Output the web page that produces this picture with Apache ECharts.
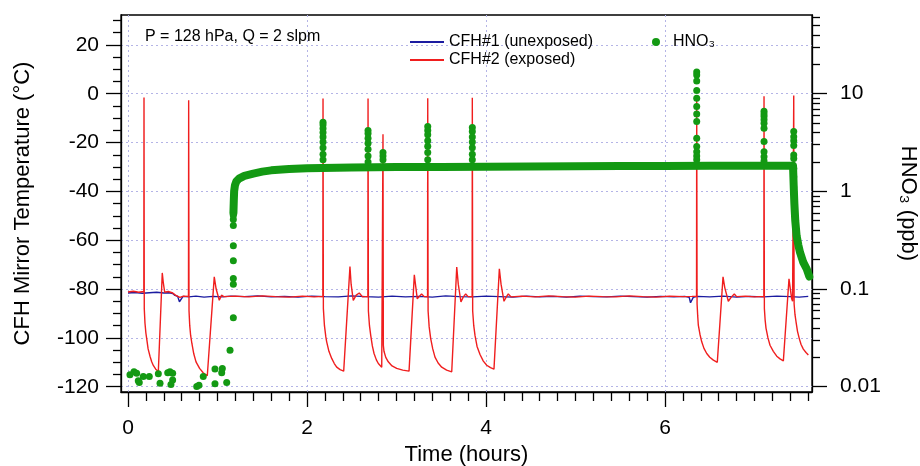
<!DOCTYPE html>
<html><head><meta charset="utf-8">
<script src="https://cdn.jsdelivr.net/npm/echarts@6/dist/echarts.min.js"></script>
<style>html,body{margin:0;padding:0;background:#fff}#c{width:920px;height:466px}</style>
</head><body><div id="c"></div>
<script>
// ---- tick labels / tick positions ----
const xMajorTicks = [0, 2, 4, 6];
const xMinorTicks = [0.2,0.4,0.6,0.8,1.0,1.2,1.4,1.6,1.8,2.2,2.4,2.6,2.8,3.0,3.2,3.4,3.6,3.8,4.2,4.4,4.6,4.8,5.0,5.2,5.4,5.6,5.8,6.2,6.4,6.6,6.8,7.0,7.2,7.4,7.6];
const tempMajorTicks = [-120,-100,-80,-60,-40,-20,0,20];
const tempMinorTicks = [-115,-110,-105,-95,-90,-85,-75,-70,-65,-55,-50,-45,-35,-30,-25,-15,-10,-5,5,10,15,25,30];
const ppbMajorTicks = [0.01, 0.1, 1, 10];
const ppbMinorTicks = [0.02,0.03,0.04,0.05,0.06,0.07,0.08,0.09,0.2,0.3,0.4,0.5,0.6,0.7,0.8,0.9,2,3,4,5,6,7,8,9,20,30,40,50,60];

// ---- CFH#1 (unexposed) mirror temperature [hours, degC] ----
const cfh1 = [
[0.00,-81.6],[0.08,-81.4],[0.16,-81.7],[0.24,-81.5],[0.32,-81.3],[0.40,-81.6],[0.46,-81.5],[0.50,-81.8],
[0.525,-82.6],[0.555,-83.0],[0.575,-85.2],[0.59,-84.4],[0.615,-83.0],[0.68,-83.2],[0.76,-82.9],[0.85,-83.3],
[0.95,-83.0],[1.05,-83.2],[1.15,-82.9],[1.3,-83.1],[1.45,-82.8],[1.6,-83.2],[1.75,-83.0],[1.9,-83.3],
[2.05,-82.9],[2.2,-83.1],[2.35,-83.2],[2.5,-82.8],[2.65,-83.1],[2.8,-83.3],[2.95,-82.9],[3.1,-83.2],
[3.25,-83.0],[3.4,-83.3],[3.55,-82.8],[3.7,-83.1],[3.85,-83.2],[4.0,-82.9],[4.15,-83.1],[4.3,-83.3],
[4.45,-82.9],[4.6,-83.2],[4.75,-83.0],[4.9,-83.3],[5.05,-82.9],[5.2,-83.1],[5.35,-83.2],[5.5,-82.9],
[5.65,-83.1],[5.8,-83.3],[5.95,-83.0],[6.1,-83.2],[6.22,-83.0],[6.27,-83.4],[6.285,-85.6],[6.30,-85.3],
[6.315,-83.4],[6.36,-83.0],[6.5,-83.2],[6.65,-82.9],[6.8,-83.3],[6.95,-83.0],[7.1,-83.2],[7.25,-82.9],
[7.4,-83.1],[7.5,-83.3],[7.6,-83.0]
];

// ---- CFH#2 (exposed) mirror temperature [hours, degC] ----
const cfh2 = [
[0.00,-81.2],[0.06,-80.9],[0.12,-81.3],[0.177,-81.0],
[0.179,-1.5],[0.182,-88],[0.19,-94],[0.2,-98],[0.209,-100.3],[0.225,-104.5],[0.246,-107.5],[0.265,-109.8],
[0.283,-111.3],[0.31,-112.8],[0.339,-113.8],[0.383,-73.4],[0.395,-77.5],[0.41,-81.3],[0.45,-81.0],[0.5,-81.6],
[0.53,-82.5],[0.58,-83.4],[0.62,-82.9],[0.676,-83.0],
[0.678,-2.7],[0.682,-89],[0.69,-95],[0.7,-99],[0.715,-102.5],[0.735,-106.5],[0.76,-109.8],[0.8,-112.5],
[0.84,-114.3],[0.886,-115.5],[0.964,-75],[0.985,-80],[1.02,-84.6],[1.045,-82.5],[1.07,-83.1],[1.2,-82.9],
[1.35,-83.2],[1.5,-82.8],[1.65,-83.1],[1.8,-83.3],[1.95,-82.9],[2.08,-83.2],[2.177,-83.0],
[2.179,-2],[2.183,-88],[2.195,-95],[2.21,-99.5],[2.22,-101.6],[2.245,-105.5],[2.276,-108.4],[2.305,-110.5],
[2.332,-112],[2.37,-113],[2.41,-113.6],[2.48,-70.8],[2.493,-78],[2.517,-84.6],[2.55,-82.5],[2.584,-81.6],
[2.62,-83.2],[2.68,-83.0],
[2.682,-2],[2.686,-89],[2.698,-95],[2.712,-99],[2.73,-103.3],[2.749,-106.4],[2.775,-109],[2.797,-110.5],
[2.835,-112],[2.847,-112.3],
[2.849,-16.6],[2.853,-103],[2.86,-105.5],[2.88,-108],[2.908,-109.8],[2.95,-111.5],[3.002,-112.5],[3.07,-113.2],
[3.14,-113.6],[3.199,-74.2],[3.215,-79],[3.232,-84],[3.255,-83],[3.28,-82],[3.31,-83.1],[3.347,-83.0],
[3.349,-1.9],[3.353,-89],[3.365,-95.5],[3.382,-100.3],[3.405,-104.5],[3.43,-107.9],[3.465,-110.3],[3.505,-112],
[3.56,-113.2],[3.617,-113.9],[3.673,-71],[3.69,-78],[3.72,-85.3],[3.745,-83.3],[3.773,-82],[3.8,-83.1],[3.845,-83.0],
[3.847,-1.6],[3.851,-89],[3.863,-95],[3.877,-99],[3.9,-103.5],[3.933,-106.8],[3.97,-109.5],[4.008,-111.2],
[4.05,-112.2],[4.089,-112.8],[4.149,-71.7],[4.168,-78],[4.201,-85],[4.225,-83.3],[4.249,-82],[4.28,-83.2],
[4.4,-82.9],[4.55,-83.2],[4.7,-82.8],[4.85,-83.1],[5.0,-83.3],[5.15,-82.9],[5.3,-83.1],[5.45,-83.2],
[5.6,-82.8],[5.75,-83.1],[5.9,-83.3],[6.05,-82.9],[6.2,-83.1],[6.3,-83.0],[6.352,-82.9],
[6.354,-1],[6.358,-86],[6.365,-91],[6.372,-94.8],[6.39,-98.5],[6.41,-101.6],[6.435,-104.3],[6.466,-106.4],
[6.5,-107.9],[6.54,-109.1],[6.584,-110],[6.648,-75],[6.668,-79.5],[6.707,-85],[6.74,-83.3],[6.774,-82],
[6.8,-83.1],[6.9,-82.9],[7.0,-83.2],[7.104,-83.0],
[7.106,-1],[7.11,-88],[7.118,-92.5],[7.128,-96],[7.15,-100],[7.173,-103],[7.21,-105.5],[7.248,-107.5],
[7.285,-108.6],[7.322,-109.4],[7.385,-75.8],[7.4,-80],[7.415,-84],[7.425,-85],[7.436,-84.5],
[7.438,-0.7],[7.442,-86],[7.452,-90.5],[7.464,-93.5],[7.48,-97.3],[7.5,-100.3],[7.52,-102.7],[7.545,-104.6],
[7.575,-106],[7.601,-107]
];

// ---- HNO3 (ppb): dense measurement band [hours, ppb] ----
const hno3Band = [
[1.178,0.6],[1.182,0.8],[1.186,1.0],[1.195,1.15],[1.21,1.26],[1.24,1.35],[1.3,1.44],[1.4,1.52],[1.5,1.59],
[1.6,1.64],[1.8,1.69],[2.0,1.72],[2.5,1.75],[3.0,1.77],[3.5,1.78],[4.0,1.79],[4.5,1.80],[5.0,1.81],
[5.5,1.815],[6.0,1.82],[6.5,1.825],[7.0,1.83],[7.43,1.83],[7.438,1.1],[7.445,0.75],[7.455,0.5],[7.47,0.35],
[7.49,0.28],[7.508,0.237],[7.545,0.187],[7.583,0.16],[7.612,0.134]
];

// ---- HNO3 (ppb): individual points [hours, ppb] ----
const hno3Dots = [
[0.022,0.0132],[0.067,0.0142],[0.097,0.0137],[0.115,0.0115],[0.126,0.0110],[0.171,0.0127],[0.238,0.0127],
[0.339,0.0135],[0.358,0.0108],[0.444,0.0139],[0.469,0.0142],[0.499,0.0137],[0.499,0.0117],[0.480,0.0105],
[0.768,0.0100],[0.793,0.0103],[0.841,0.0127],[0.972,0.0151],[1.047,0.0139],[1.054,0.0153],[0.972,0.0107],
[1.103,0.0110],[1.140,0.0235],[1.177,0.0507],[1.177,0.112],[1.177,0.128],[1.177,0.195],[1.177,0.277],
[1.177,0.446],[1.177,0.514],[1.177,0.566],
[2.179,5.1],[2.179,4.8],[2.179,4.4],[2.179,4.0],[2.179,3.6],[2.179,3.2],[2.179,2.8],[2.179,2.4],[2.179,2.1],
[2.682,4.2],[2.682,3.9],[2.682,3.5],[2.682,3.1],[2.682,2.7],[2.682,2.3],[2.682,2.0],
[2.849,2.5],[2.849,2.3],[2.849,2.1],
[3.349,4.6],[3.349,4.2],[3.349,3.8],[3.349,3.3],[3.349,2.9],[3.349,2.5],[3.349,2.1],
[3.847,4.5],[3.847,4.1],[3.847,3.6],[3.847,3.2],[3.847,2.8],[3.847,2.4],[3.847,2.1],
[6.354,16.7],[6.354,15.5],[6.354,13.5],[6.354,10.8],[6.354,9.0],[6.354,7.4],[6.354,6.2],[6.354,5.2],
[6.354,3.5],[6.354,2.87],[6.354,2.55],[6.354,2.3],[6.354,2.1],
[7.106,6.6],[7.106,6.2],[7.106,5.85],[7.106,5.4],[7.106,4.98],[7.106,4.42],[7.106,3.23],[7.106,2.55],[7.106,2.26],[7.106,2.05],
[7.438,4.1],[7.438,3.63],[7.438,3.3],[7.438,2.94],[7.438,2.35],[7.438,2.17],[7.438,1.71],[7.438,1.41],[7.438,1.11]
];

const FONT = 'Liberation Sans, Arial, Helvetica, sans-serif';
const BLUE = '#1c1ca0', RED = '#f01e1e', GREEN = '#139913';
const GRIDC = '#b4b4e6';
const X_MIN = -0.078, X_MAX = 7.642;
const T_MIN = -122.16, T_MAX = 32.24;
const L_MIN = -2.0554, L_MAX = 1.806; // log10(ppb) extent aligned with temperature grid

const chart = echarts.init(document.getElementById('c'), null, {renderer: 'canvas'});
const axisLineStyle = {color: '#000', width: 1.3};
const labelStyle = {fontFamily: FONT, fontSize: 21, color: '#000'};

chart.setOption({
  animation: false,
  backgroundColor: '#fff',
  grid: {left: 121, right: 108, top: 15, bottom: 74, show: true, borderColor: '#000', borderWidth: 1.3,
         containLabel: false, outerBoundsMode: 'none'},
  legend: [
    {data: ['CFH#1 (unexposed)', 'CFH#2 (exposed)'], left: 405, top: 28, orient: 'vertical',
     icon: 'rect', itemWidth: 34, itemHeight: 2, itemGap: 0, selectedMode: false,
     textStyle: {fontFamily: FONT, fontSize: 16, color: '#000', lineHeight: 18}},
    {data: ['HNO₃'], left: 647, top: 28, icon: 'circle', itemWidth: 8, itemHeight: 8, selectedMode: false,
     textStyle: {fontFamily: FONT, fontSize: 16, color: '#000', lineHeight: 18, padding: [0, 0, 0, 8]}}
  ],
  graphic: [
    {type: 'text', left: 145, top: 29, style: {text: 'P = 128 hPa, Q = 2 slpm', fontFamily: FONT, fontSize: 16, fill: '#000'}}
  ],
  xAxis: [
    {type: 'value', min: X_MIN, max: X_MAX, position: 'bottom',
     name: 'Time (hours)', nameLocation: 'middle', nameGap: 50,
     nameTextStyle: {fontFamily: FONT, fontSize: 22, color: '#000'},
     axisLine: {show: true, onZero: false, lineStyle: axisLineStyle},
     axisTick: {show: true, length: 15, customValues: xMajorTicks, lineStyle: axisLineStyle},
     axisLabel: {show: true, customValues: xMajorTicks, margin: 26, ...labelStyle},
     splitLine: {show: true, lineStyle: {color: GRIDC, type: [2, 3], width: 1}}},
    {type: 'value', min: X_MIN, max: X_MAX, position: 'bottom',
     axisLine: {show: false, onZero: false},
     axisTick: {show: true, length: 9, customValues: xMinorTicks, lineStyle: axisLineStyle},
     axisLabel: {show: false}, splitLine: {show: false}}
  ],
  yAxis: [
    {type: 'value', min: T_MIN, max: T_MAX, position: 'left',
     name: 'CFH Mirror Temperature (°C)', nameLocation: 'middle', nameGap: 87,
     nameTextStyle: {fontFamily: FONT, fontSize: 22, color: '#000'},
     axisLine: {show: true, onZero: false, lineStyle: axisLineStyle},
     axisTick: {show: true, length: 15, customValues: tempMajorTicks, lineStyle: axisLineStyle},
     axisLabel: {show: true, customValues: tempMajorTicks, margin: 22, ...labelStyle},
     splitLine: {show: true, lineStyle: {color: GRIDC, type: [2, 3], width: 1}}},
    {type: 'log', logBase: 10, min: Math.pow(10, L_MIN), max: Math.pow(10, L_MAX), position: 'right', show: false,
     axisLine: {onZero: false}, splitLine: {show: false}},
    {type: 'value', min: L_MIN, max: L_MAX, position: 'right',
     name: 'HNO₃ (ppb)', nameLocation: 'middle', nameGap: 85, nameRotate: -90,
     nameTextStyle: {fontFamily: FONT, fontSize: 22, color: '#000'},
     axisLine: {show: true, onZero: false, lineStyle: axisLineStyle},
     axisTick: {show: true, length: 15, customValues: ppbMajorTicks.map(Math.log10), lineStyle: axisLineStyle},
     axisLabel: {show: true, customValues: ppbMajorTicks.map(Math.log10), margin: 28, ...labelStyle,
       formatter: function (v) {
         let best = ppbMajorTicks[0];
         ppbMajorTicks.forEach(function (p) { if (Math.abs(Math.log10(p) - v) < Math.abs(Math.log10(best) - v)) best = p; });
         return String(best);
       }},
     splitLine: {show: false}},
    {type: 'value', min: L_MIN, max: L_MAX, position: 'right',
     axisLine: {show: false, onZero: false},
     axisTick: {show: true, length: 8, customValues: ppbMinorTicks.map(Math.log10), lineStyle: axisLineStyle},
     axisLabel: {show: false}, splitLine: {show: false}},
    {type: 'value', min: T_MIN, max: T_MAX, position: 'left',
     axisLine: {show: false, onZero: false},
     axisTick: {show: true, length: 8, customValues: tempMinorTicks, lineStyle: axisLineStyle},
     axisLabel: {show: false}, splitLine: {show: false}}
  ],
  series: [
    {name: 'CFH#1 (unexposed)', type: 'line', xAxisIndex: 0, yAxisIndex: 0, data: cfh1,
     showSymbol: false, symbol: 'none', lineStyle: {color: BLUE, width: 1.4}, itemStyle: {color: BLUE}, z: 2},
    {name: 'CFH#2 (exposed)', type: 'line', xAxisIndex: 0, yAxisIndex: 0, data: cfh2,
     showSymbol: false, symbol: 'none', lineStyle: {color: RED, width: 1.4}, itemStyle: {color: RED}, z: 3},
    {name: 'HNO₃', type: 'line', xAxisIndex: 0, yAxisIndex: 1, data: hno3Band,
     showSymbol: false, symbol: 'none', lineStyle: {color: GREEN, width: 8, cap: 'round', join: 'round'},
     itemStyle: {color: GREEN}, z: 4},
    {name: 'HNO₃', type: 'scatter', xAxisIndex: 0, yAxisIndex: 1, data: hno3Dots,
     symbolSize: 7, itemStyle: {color: GREEN, opacity: 1}, z: 5}
  ]
});
</script>
</body></html>
